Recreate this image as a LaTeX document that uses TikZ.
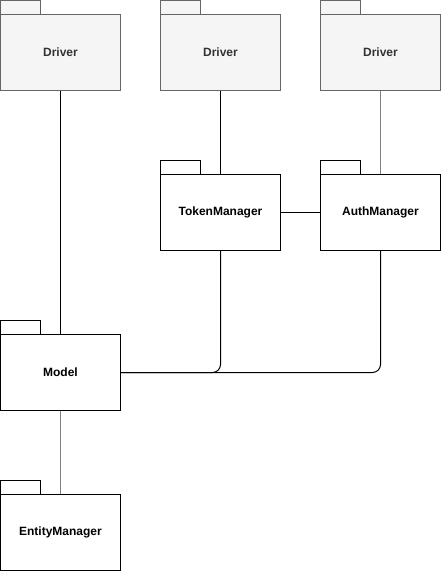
\documentclass[tikz,border=0pt]{standalone}
\usepackage{fontspec}
\setmainfont{Liberation Sans}
\begin{document}
\begin{tikzpicture}[x=1pt,y=-1pt,
  pkg/.style={draw=black,fill=white,line width=1pt,minimum width=120pt,minimum height=76pt,inner sep=0pt,font=\fontsize{12pt}{14pt}\selectfont\bfseries,text=black},
  drv/.style={pkg,draw=drvline,fill=drvfill,text=drvtext},
  tabbox/.style={line width=1pt},
  conn/.style={line width=1pt,draw=black},
  gconn/.style={line width=1pt,draw=gray!100!black,draw=connGray}]
\definecolor{drvline}{HTML}{666666}
\definecolor{drvfill}{HTML}{F5F5F5}
\definecolor{drvtext}{HTML}{333333}
\definecolor{connGray}{HTML}{808080}
\useasboundingbox (0,0) rectangle (441,571);
% tabs
\draw[tabbox,draw=drvline,fill=drvfill] (0.5,0.5) rectangle (40.5,14.5);
\draw[tabbox,draw=drvline,fill=drvfill] (160.5,0.5) rectangle (200.5,14.5);
\draw[tabbox,draw=drvline,fill=drvfill] (320.5,0.5) rectangle (360.5,14.5);
\draw[tabbox,fill=white] (160.5,160.5) rectangle (200.5,174.5);
\draw[tabbox,fill=white] (320.5,160.5) rectangle (360.5,174.5);
\draw[tabbox,fill=white] (0.5,320.5) rectangle (40.5,334.5);
\draw[tabbox,fill=white] (0.5,480.5) rectangle (40.5,494.5);
% bodies
\node[drv] (d1) at (60.5,52.5) {Driver};
\node[drv] (d2) at (220.5,52.5) {Driver};
\node[drv] (d3) at (380.5,52.5) {Driver};
\node[pkg] (tm) at (220.5,212.5) {TokenManager};
\node[pkg] (am) at (380.5,212.5) {AuthManager};
\node[pkg] (mo) at (60.5,372.5) {Model};
\node[pkg] (em) at (60.5,532.5) {EntityManager};
% connectors
\draw[conn] (d1.south) -- (mo.north);
\draw[conn] (d2.south) -- (tm.north);
\draw[gconn] (d3.south) -- (am.north);
\draw[conn] (tm.east) -- (am.west);
\draw[conn,rounded corners=8pt] (mo.east) -| (tm.south);
\draw[conn,rounded corners=8pt] (mo.east) -| (am.south);
\draw[gconn] (mo.south) -- (em.north);
\end{tikzpicture}
\end{document}
